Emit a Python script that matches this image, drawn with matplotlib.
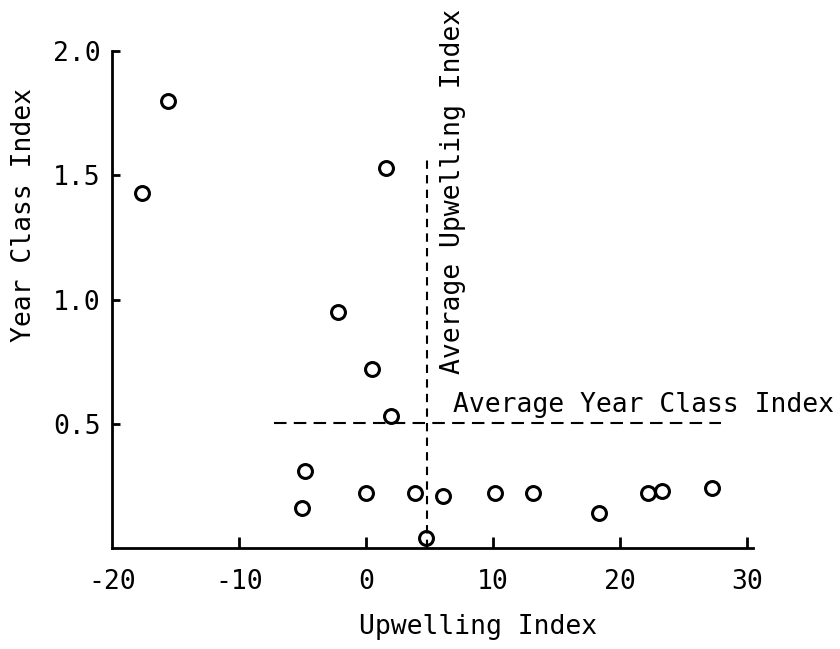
import matplotlib
matplotlib.use("Agg")
import matplotlib.pyplot as plt

# upwelling index vs year class index
upwelling = [-17.6, -15.6, 1.6, -2.2, 0.5, 2.0, -4.8, -5.0, 0.0, 3.9,
             4.7, 6.1, 10.2, 13.2, 18.4, 22.2, 23.3, 27.3]
year_class = [1.43, 1.80, 1.53, 0.95, 0.72, 0.53, 0.31, 0.16, 0.22, 0.22,
              0.04, 0.21, 0.22, 0.22, 0.14, 0.22, 0.23, 0.24]

avg_upwelling = 4.8
avg_year_class = 0.505

x_ticks = [-20, -10, 0, 10, 20, 30]
y_ticks = [0.5, 1.0, 1.5, 2.0]
y_ticklabels = ["0.5", "1.0", "1.5", "2.0"]

plt.rcParams['font.family'] = ['DejaVu Sans Mono']
plt.rcParams['axes.unicode_minus'] = False

fig = plt.figure(figsize=(8.4, 6.49), dpi=100)
ax = fig.add_axes([112/840, 1-548/649, (753-112)/840, (548-51)/649])

ax.plot(upwelling, year_class, 'o', ms=10, mfc='none', mec='black', mew=2.2)

# average lines
ax.plot([-7.2, 28.0], [avg_year_class, avg_year_class], color='black',
        lw=1.5, ls=(0, (6, 3.5)))
ax.plot([avg_upwelling, avg_upwelling], [0, 1.58], color='black',
        lw=1.5, ls=(0, (4, 3)))

ax.text(6.85, 0.547, "Average Year Class Index", fontsize=19,
        ha='left', va='baseline')
ax.text(7.9, 0.70, "Average Upwelling Index", fontsize=19, rotation=90,
        ha='right', va='bottom')

ax.set_xlim(-20, 30.5)
ax.set_ylim(0, 2.0)
ax.set_xticks(x_ticks)
ax.set_xticklabels([str(v) for v in x_ticks])
ax.set_yticks(y_ticks)
ax.set_yticklabels(y_ticklabels)

for s in ['top', 'right']:
    ax.spines[s].set_visible(False)
for s in ['left', 'bottom']:
    ax.spines[s].set_linewidth(2)

ax.tick_params(axis='x', direction='in', length=8, width=2, pad=15,
               labelsize=19)
ax.tick_params(axis='y', direction='in', length=6, width=2, pad=8,
               labelsize=19)
ax.xaxis.get_major_ticks()[0].tick1line.set_visible(False)

fig.text(478/840, 1-634/649, "Upwelling Index", fontsize=19,
         ha='center', va='baseline')
fig.text(24/840, 1-215/649, "Year Class Index", fontsize=19, rotation=90,
         ha='center', va='center')

fig.savefig("out.png", dpi=100)
